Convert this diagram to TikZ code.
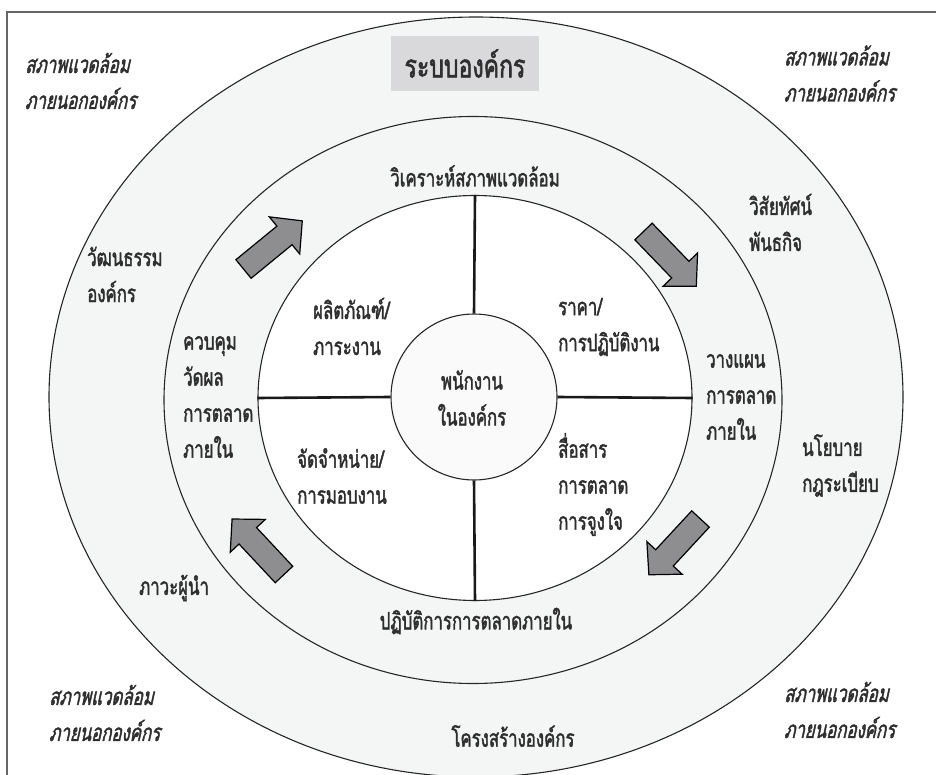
\documentclass[tikz,border=0pt]{standalone}
\usepackage{fontspec}
\usetikzlibrary{shapes.geometric}
\newfontfamily\thf[Script=Thai,FakeStretch=0.7,FakeBold=1.7]{Loma}
\newfontfamily\thfi[Script=Thai,FakeStretch=0.7,FakeSlant=0.22,FakeBold=1.7]{Loma}
\newfontfamily\thft[Script=Thai,FakeStretch=0.72,FakeBold=1.7]{Loma}
\definecolor{ring}{HTML}{F4F5F5}
\definecolor{smallc}{HTML}{FAFAFA}
\definecolor{txt}{HTML}{2E2E2E}
\definecolor{boxg}{HTML}{D9D9DB}
\definecolor{arrg}{HTML}{8E8E90}
\definecolor{frameg}{HTML}{666666}
\tikzset{
  lb/.style={font=\thf\fontsize{24}{36}\selectfont, text=txt, inner sep=0pt, align=left, anchor=west},
  lbc/.style={lb, align=center, anchor=center},
  env/.style={lb, font=\thfi\fontsize{24}{36}\selectfont},
  ringline/.style={draw=black!85, line width=1.1pt},
  divider/.style={draw=black!90, line width=2.6pt},
  blockarrow/.style={fill=arrg, draw=black, line width=1.2pt, line join=miter},
}
\newcommand{\blockarr}[3]{%
  \begin{scope}[shift={(#1,#2)}, rotate=#3]
    \path[blockarrow] (0pt,-12pt) -- (53pt,-12pt) -- (53pt,-24pt) -- (76pt,0pt)
      -- (53pt,24pt) -- (53pt,12pt) -- (0pt,12pt) -- cycle;
  \end{scope}}
\begin{document}
\begin{tikzpicture}[x=1pt,y=-1pt]
\useasboundingbox (0,0) rectangle (936,775);
\clip (0,0) rectangle (936,775);
\fill[white] (0,0) rectangle (936,775);
% frame
\draw[frameg, line width=1.4pt] (7,12) rectangle (960,800);
% rings
\node[ellipse, ringline, fill=ring, minimum width=854pt, minimum height=760pt, inner sep=0pt] (outer) at (476,397) {};
\node[ellipse, ringline, fill=ring, minimum width=618pt, minimum height=567pt, inner sep=0pt] (middle) at (473,400) {};
\node[ellipse, ringline, fill=white, minimum width=434pt, minimum height=405pt, inner sep=0pt] (inner) at (475,398) {};
\node[circle, ringline, fill=smallc, minimum size=166pt, inner sep=0pt] (small) at (474,397) {};
% dividers
\draw[divider] (inner.north) -- (small.north);
\draw[divider] (small.south) -- (inner.south);
\draw[divider] (inner.west) -- (small.west);
\draw[divider] (small.east) -- (inner.east);
% title box
\node[fill=boxg, minimum width=148pt, minimum height=55pt, inner sep=0pt] (title) at (465,63.5) {};
\node[lbc, font=\thft\fontsize{32}{36}\selectfont] (titletext) at (title.center) {ระบบองค์กร};
% arrows
\blockarr{243.5}{269}{39.3}
\blockarr{643.5}{231.5}{-46}
\blockarr{700.5}{519}{-132.8}
\blockarr{284}{574.5}{133.1}
% environment labels
\node[env] (envtl) at (25,81) {สภาพแวดล้อม\\ภายนอกองค์กร};
\node[env] (envtr) at (784,73.5) {สภาพแวดล้อม\\ภายนอกองค์กร};
\node[env] (envbl) at (49,713) {สภาพแวดล้อม\\ภายนอกองค์กร};
\node[env] (envbr) at (784,710) {สภาพแวดล้อม\\ภายนอกองค์กร};
% outer ring labels
\node[lb] (vision) at (749,222.5) {วิสัยทัศน์\\พันธกิจ};
\node[lb] (culture) at (87,274.5) {วัฒนธรรม\\องค์กร};
\node[lb] (policy) at (802,465.5) {นโยบาย\\กฎระเบียบ};
\node[lb] (leader) at (139,588) {ภาวะผู้นำ};
\node[lbc] (structure) at (513,736) {โครงสร้างองค์กร};
% middle ring labels
\node[lbc] (analyze) at (475,176) {วิเคราะห์สภาพแวดล้อม};
\node[lb] (control) at (183,397) {ควบคุม\\วัดผล\\การตลาด\\ภายใน};
\node[lb] (plan) at (706,397) {วางแผน\\การตลาด\\ภายใน};
\node[lbc] (operate) at (476,621) {ปฏิบัติการการตลาดภายใน};
% inner quadrant labels
\node[lb] (product) at (313,326.5) {ผลิตภัณฑ์/\\ภาระงาน};
\node[lb] (price) at (558,327) {ราคา/\\การปฏิบัติงาน};
\node[lb] (distrib) at (297,476) {จัดจำหน่าย/\\การมอบงาน};
\node[lb] (comm) at (558,484.5) {สื่อสาร\\การตลาด\\การจูงใจ};
% center
\node[lbc] (staff) at (472,398) {พนักงาน\\ในองค์กร};
\end{tikzpicture}
\end{document}
